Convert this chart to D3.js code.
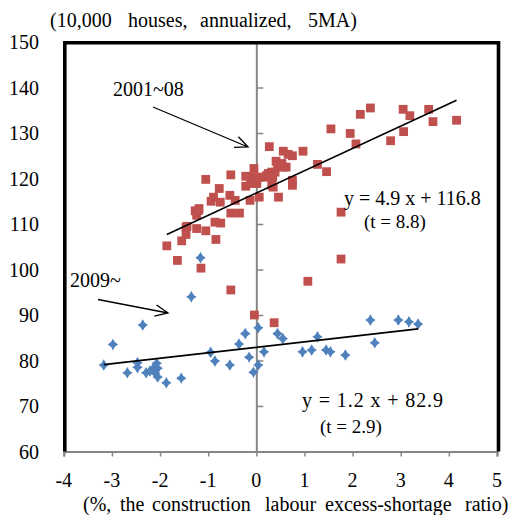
<!DOCTYPE html>
<html>
<head>
<meta charset="utf-8">
<script src="https://cdn.jsdelivr.net/npm/d3@7"></script>
<style>
  html, body { margin: 0; padding: 0; background: #fff; }
  svg { display: block; }
</style>
</head>
<body>
<svg id="chart" width="527" height="515" font-family="'Liberation Serif', 'DejaVu Serif', serif"></svg>
<script>
// Housing starts vs. construction labour excess-shortage ratio
const xTicks = [-4, -3, -2, -1, 0, 1, 2, 3, 4, 5];
const yTicks = [60, 70, 80, 90, 100, 110, 120, 130, 140, 150];

// 2001~08 observations: [ratio %, starts (10,000 houses)]
const period2001 = [
  [2.37,135.5],[2.16,134.1],[3.05,135.2],[3.19,133.8],[3.58,135.2],[3.67,132.5],
  [4.16,132.8],[1.55,130.9],[1.95,129.9],[2.07,127.6],[2.79,128.3],[3.06,130.3],
  [0.27,127.0],[0.56,126.0],[0.66,125.3],[0.75,125.0],[0.97,126.0],[1.27,123.1],
  [1.46,121.5],[1.76,112.6],[1.76,102.3],[1.07,97.4],
  [-0.05,122.2],[-0.22,120.5],[0.22,120.7],[0.32,121.4],[0.44,122.7],[0.53,123.3],
  [0.62,122.5],[0.41,123.8],[-0.22,118.3],[0.01,118.9],[0.06,115.9],[0.35,118.1],
  [0.46,115.9],[0.75,119.6],[0.75,118.5],[-0.13,115.2],[0.18,120.3],[0.34,120.3],
  [0.25,121.1],[0.08,120.3],[0.56,122.5],[0.39,121.4],[-0.12,118.9],[-0.04,120.3],
  [0.32,118.5],
  [-1.05,119.8],[-0.53,120.8],[-0.77,117.8],[-0.89,115.9],[-0.94,115.0],[-0.75,114.8],
  [-0.55,116.3],[-0.44,115.2],[-0.53,112.4],[-0.35,112.4],[-1.19,113.4],[-1.27,112.9],
  [-1.24,111.9],[-1.20,113.0],[-1.46,109.3],[-1.46,107.7],[-1.55,106.3],[-1.86,105.2],
  [-1.64,102.0],[-1.15,100.3],[-1.05,108.5],[-0.86,110.4],[-0.74,110.2],[-0.84,106.6],
  [-0.53,95.5],[-1.24,109.0],[-1.44,109.5],
  [-0.04,90.0],[0.37,88.3]
];

// 2009~ observations
const period2009 = [
  [-1.16,102.6],[-1.35,94.0],[-2.36,87.8],[-2.98,83.5],[-3.17,79.0],[-2.68,77.3],
  [-2.47,79.5],[-2.47,78.5],[-2.29,77.3],[-2.21,77.7],[-2.14,78.3],[-2.07,79.4],
  [-2.05,78.3],[-2.10,77.2],[-2.05,76.4],[-1.87,75.1],[-1.56,76.1],[-0.95,81.8],
  [-0.86,79.9],[-0.55,79.0],[-0.36,83.6],[-0.23,85.9],[-0.15,80.7],[-0.06,77.4],
  [0.04,87.2],[0.04,79.0],[0.16,81.9],[0.44,85.9],[0.55,84.8],[0.96,81.9],
  [1.15,82.3],[1.27,85.2],[1.45,82.3],[1.54,81.9],[1.85,81.2],[2.37,88.9],
  [2.46,83.9],[2.95,88.9],[3.17,88.5],[3.36,88.0]
];

// Fitted lines: [slope, intercept]
const fit2001 = [4.9, 116.8];
const fit2009 = [1.2, 82.9];

const svg = d3.select("#chart");
const x = d3.scaleLinear().domain([-4, 5]).range([63.8, 497]);
const y = d3.scaleLinear().domain([60, 150]).range([451.5, 42]);

const gray = "#868686";
const red = "#C0504D";
const blue = "#4F81BD";

// Vertical value axis crossing at x = 0, ticks to the right
const yAxisG = svg.append("g").attr("transform", `translate(${x(0)},0)`)
  .call(d3.axisRight(y).tickValues(yTicks).tickSize(7).tickFormat(""));
yAxisG.select(".domain").attr("stroke", gray).attr("stroke-width", 2);
yAxisG.selectAll(".tick line").attr("stroke", gray).attr("stroke-width", 1.5);

// Y tick labels on the left of the frame
svg.append("g").selectAll("text").data(yTicks).join("text")
  .attr("x", 39).attr("y", d => y(d) + 7)
  .attr("text-anchor", "end").attr("font-size", 20)
  .text(d => d);

// Horizontal axis along the bottom
const xAxisG = svg.append("g").attr("transform", `translate(0,${y(60)})`)
  .call(d3.axisBottom(x).tickValues(xTicks).tickSize(5).tickFormat(""));
xAxisG.select(".domain").attr("stroke", gray).attr("stroke-width", 2.2);
xAxisG.selectAll(".tick line").attr("stroke", gray).attr("stroke-width", 1.5);

svg.append("g").selectAll("text").data(xTicks).join("text")
  .attr("x", d => x(d)).attr("y", 487)
  .attr("text-anchor", "middle").attr("font-size", 20)
  .text(d => d);

// Frame: top, left and right borders
svg.append("path")
  .attr("d", `M${x(-4) + 1},${y(60)} V${y(150) + 0.8} H${x(5) + 1.5} V${y(60)}`)
  .attr("fill", "none").attr("stroke", "#000").attr("stroke-width", 3.6);

// Regression lines
function fitLine(data, fit) {
  const [lo, hi] = d3.extent(data, d => d[0]);
  return [[lo, fit[0] * lo + fit[1]], [hi, fit[0] * hi + fit[1]]];
}
const line = d3.line().x(d => x(d[0])).y(d => y(d[1]));

// Markers
svg.append("g").selectAll("path").data(period2009).join("path")
  .attr("transform", d => `translate(${x(d[0])},${y(d[1])})`)
  .attr("d", "M0,-5.8 Q1.6,-1.6 5.2,0 Q1.6,1.6 0,5.8 Q-1.6,1.6 -5.2,0 Q-1.6,-1.6 0,-5.8Z")
  .attr("fill", blue);

svg.append("g").selectAll("rect").data(period2001).join("rect")
  .attr("x", d => x(d[0]) - 4.4).attr("y", d => y(d[1]) - 4.4)
  .attr("width", 8.8).attr("height", 8.8)
  .attr("fill", red);

svg.append("path").attr("d", line(fitLine(period2001, fit2001)))
  .attr("stroke", "#000").attr("stroke-width", 1.6).attr("fill", "none");
svg.append("path").attr("d", line(fitLine(period2009, fit2009)))
  .attr("stroke", "#000").attr("stroke-width", 1.8).attr("fill", "none");

// Annotation arrows
function arrow(x1, y1, x2, y2) {
  const a = Math.atan2(y2 - y1, x2 - x1);
  const L = 14, spread = 0.42;
  const p1 = [x2 - L * Math.cos(a - spread), y2 - L * Math.sin(a - spread)];
  const p2 = [x2 - L * Math.cos(a + spread), y2 - L * Math.sin(a + spread)];
  svg.append("path")
    .attr("d", `M${x1},${y1} L${x2},${y2} M${p1[0]},${p1[1]} L${x2},${y2} L${p2[0]},${p2[1]}`)
    .attr("stroke", "#000").attr("stroke-width", 1.3).attr("fill", "none");
}
arrow(153, 107, 248, 147);
arrow(98, 299.5, 168, 313);

// Labels
svg.append("text").attr("x", 113).attr("y", 96).attr("font-size", 20).text("2001~08");
svg.append("text").attr("x", 70).attr("y", 287).attr("font-size", 20).text("2009~");

svg.append("text").attr("x", 344).attr("y", 205).attr("font-size", 20)
  .text(`y = ${fit2001[0]} x + ${fit2001[1]}`);
svg.append("text").attr("x", 364).attr("y", 228).attr("font-size", 19)
  .text("(t = 8.8)");
svg.append("text").attr("x", 302).attr("y", 406.5).attr("font-size", 20)
  .attr("textLength", 141).attr("lengthAdjust", "spacing")
  .text(`y = ${fit2009[0]} x + ${fit2009[1]}`);
svg.append("text").attr("x", 320).attr("y", 433).attr("font-size", 19)
  .text("(t = 2.9)");

// Unit caption and axis title, word by word
const captionWords = [["(10,000", 50], ["houses,", 128], ["annualized,", 200], ["5MA)", 308]];
svg.append("g").selectAll("text").data(captionWords).join("text")
  .attr("x", d => d[1]).attr("y", 27).attr("font-size", 20).text(d => d[0]);

const titleWords = [["(%,", 83], ["the", 120], ["construction", 152], ["labour", 265],
  ["excess-shortage", 325], ["ratio)", 465]];
svg.append("g").selectAll("text").data(titleWords).join("text")
  .attr("x", d => d[1]).attr("y", 511).attr("font-size", 20).text(d => d[0]);
</script>
</body>
</html>
